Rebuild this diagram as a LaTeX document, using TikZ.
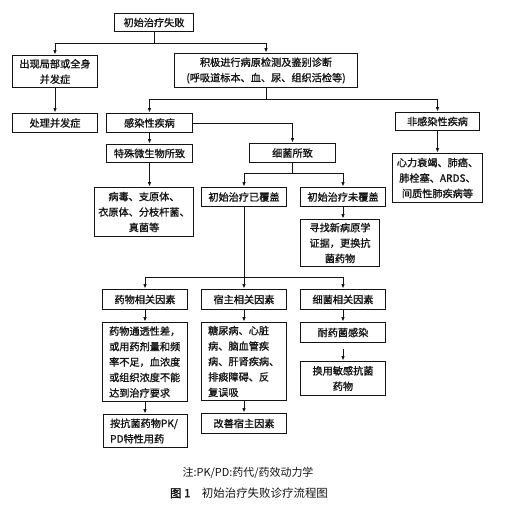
\documentclass[tikz,border=0pt]{standalone}
\usepackage{fontspec}
\usepackage{tikz}
\usetikzlibrary{arrows.meta, positioning, calc}
\newfontfamily\cjk[FakeBold=1.2]{Noto Sans CJK SC}
\newfontfamily\cjkcap{Noto Sans CJK SC}
\definecolor{figK}{RGB}{20,20,20}

\begin{document}
\begin{tikzpicture}[x=1bp, y=-1bp,
  fbox/.style={draw=figK, line width=1pt, font=\cjk\fontsize{10.2}{15.5}\selectfont,
    align=center, inner sep=2pt, text=figK},
  lbox/.style={fbox, align=left, inner xsep=7pt},
  arr/.style={-{Latex[length=4.5pt,width=3.6pt]}, line width=0.9pt, figK},
  ln/.style={line width=0.9pt, figK}]
\useasboundingbox (0,0) rectangle (510,519);
% first level
\node[fbox, minimum width=80, minimum height=19] (fail) at (154,22.5) {初始治疗失败};
\node[fbox, minimum width=86, minimum height=33] (compl) at (55,71.5) {出现局部或全身\\并发症};
\node[fbox, minimum width=184, minimum height=35] (exam) at (266,70.5) {积极进行病原检测及鉴别诊断\\(呼吸道标本、血、尿、组织活检等)};
\node[fbox, minimum width=86, minimum height=20] (treat) at (55,123) {处理并发症};
\node[fbox, minimum width=87, minimum height=20] (infect) at (149.5,123) {感染性疾病};
\node[fbox, minimum width=85, minimum height=19] (noninf) at (437.5,121.5) {非感染性疾病};
% infection branch
\node[fbox, minimum width=87, minimum height=19] (special) at (149.5,153.5) {特殊微生物所致};
\node[fbox, minimum width=87, minimum height=20] (bact) at (292.5,153) {细菌所致};
\node[fbox, minimum width=91, minimum height=50] (nonlist) at (437.5,178) {心力衰竭、肺癌、\\肺栓塞、ARDS、\\间质性肺疾病等};
\node[fbox, minimum width=100, minimum height=50] (splist) at (144,212) {病毒、支原体、\\衣原体、分枝杆菌、\\真菌等};
\node[fbox, minimum width=86, minimum height=20] (covered) at (244,197) {初始治疗已覆盖};
\node[fbox, minimum width=86, minimum height=20] (uncov) at (343,197) {初始治疗未覆盖};
\node[fbox, minimum width=80, minimum height=48] (newev) at (340,243) {寻找新病原学\\证据，更换抗\\菌药物};
% factor boxes
\node[fbox, minimum width=86, minimum height=21] (drug) at (145,299.5) {药物相关因素};
\node[fbox, minimum width=86, minimum height=21] (host) at (244,299.5) {宿主相关因素};
\node[fbox, minimum width=86, minimum height=21] (germ) at (343,299.5) {细菌相关因素};
\node[lbox, text width=72, minimum height=80] (drugd) at (145,362) {药物通透性差，\\或用药剂量和频\\率不足，血浓度\\或组织浓度不能\\达到治疗要求};
\node[lbox, text width=72, minimum height=79] (hostd) at (244,361.5) {糖尿病、心脏\\病、脑血管疾\\病、肝肾疾病、\\排痰障碍、反\\复误吸};
\node[fbox, minimum width=86, minimum height=21] (resist) at (343,332.5) {耐药菌感染};
\node[fbox, minimum width=86, minimum height=35] (swap) at (343,378.5) {换用敏感抗菌\\药物};
\node[lbox, text width=71, minimum height=34] (pkpd) at (145.5,431) {按抗菌药物PK/\\PD特性用药};
\node[fbox, minimum width=86, minimum height=21] (improve) at (244,423.5) {改善宿主因素};
% captions
\node[font=\cjkcap\fontsize{11}{13}\selectfont, text=figK] (note) at (248,473) {注:PK/PD:药代/药效动力学};
\node[font=\cjkcap\fontsize{11.5}{13}\selectfont, text=figK] (caption) at (249,493) {{\cjk 图 1}\quad 初始治疗失败诊疗流程图};
% junctions
\coordinate (j1) at (154,43);
\coordinate (j2) at (266,99);
\coordinate (j3) at (292.5,173);
\coordinate (j4) at (244,277);
% connectors
\draw[ln] (fail.south) -- (j1);
\draw[arr] (j1) -| (compl.north);
\draw[arr] (j1) -| (exam.north);
\draw[arr] (compl) -- (treat);
\draw[ln] (exam.south) -- (j2);
\draw[arr] (j2) -| (infect.north);
\draw[arr] (j2) -| (noninf.north);
\draw[arr] (infect) -- (special);
\draw[arr] (infect.east) -| (bact.north);
\draw[arr] (noninf) -- (nonlist);
\draw[arr] (special.south) -- (special.south |- splist.north);
\draw[ln] (bact.south) -- (j3);
\draw[arr] (j3) -| (covered.north);
\draw[arr] (j3) -| (uncov.north);
\draw[arr] (uncov.south) -- (uncov.south |- newev.north);
\draw[ln] (covered.south) -- (j4);
\foreach \f in {drug, host, germ}
  \draw[arr] (j4) -| (\f.north);
\draw[arr] (drug) -- (drugd);
\draw[arr] (host) -- (hostd);
\draw[arr] (germ) -- (resist);
\draw[arr, shorten <=6] (resist) -- (swap);
\draw[arr] (drugd.south) -- (drugd.south |- pkpd.north);
\draw[arr] (hostd) -- (improve);
\end{tikzpicture}
\end{document}
